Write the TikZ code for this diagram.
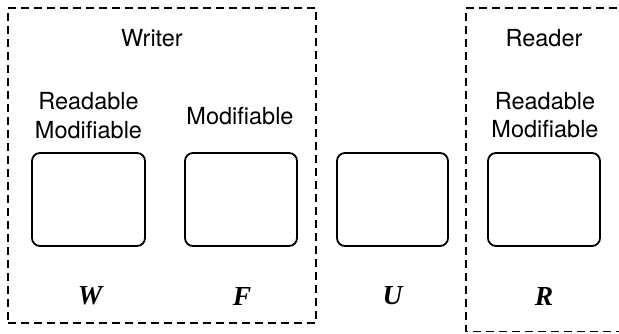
\documentclass[tikz,border=0pt]{standalone}
\usepackage{fontspec}
\setmainfont{TeX Gyre Heros}
\newfontfamily\varfont{Liberation Serif}
\begin{document}
\begin{tikzpicture}[x=1pt,y=-1pt,
  group/.style={draw, line width=1.6pt, dash pattern=on 8pt off 5pt},
  cell/.style={draw, line width=1.8pt, rounded corners=8pt, inner sep=0pt,
    minimum height=93pt},
  caption/.style={font=\fontsize{23.5}{28.3}\selectfont, align=center, inner sep=0pt},
  var/.style={font=\fontsize{27.5}{30}\varfont\bfseries\itshape\selectfont, inner sep=0pt}]
  \useasboundingbox (0,0) rectangle (619,333);
  \clip (0,0) rectangle (619,333);

  % group frames
  \node[group, minimum width=308pt, minimum height=315pt, inner sep=0pt]
    (writer) at (162,165.5) {};
  \draw[group] (630,8) -- (466,8) -- (466,331.5) -- (630,331.5);

  % group titles
  \node[caption, anchor=base] (wtitle) at (152,46) {Writer};
  \node[caption, anchor=base] (rtitle) at (544,46) {Reader};

  % cells
  \node[cell, minimum width=113pt] (W) at (88.5,199.5) {};
  \node[cell, minimum width=112pt] (F) at (241,199.5) {};
  \node[cell, minimum width=111pt] (U) at (392.5,199.5) {};
  \node[cell, minimum width=112pt] (R) at (544,199.5) {};

  % access captions
  \node[caption] (wcap) at (88.5,115.5) {Readable\\Modifiable};
  \node[caption, anchor=base] (fcap) at (240,124) {Modifiable};
  \node[caption] (rcap) at (545,115) {Readable\\Modifiable};

  % variable names
  \node[var] (wname) at (90,296) {W};
  \node[var] (fname) at (242,296) {F};
  \node[var] (uname) at (392.5,296) {U};
  \node[var] (rname) at (544,296) {R};
\end{tikzpicture}
\end{document}
